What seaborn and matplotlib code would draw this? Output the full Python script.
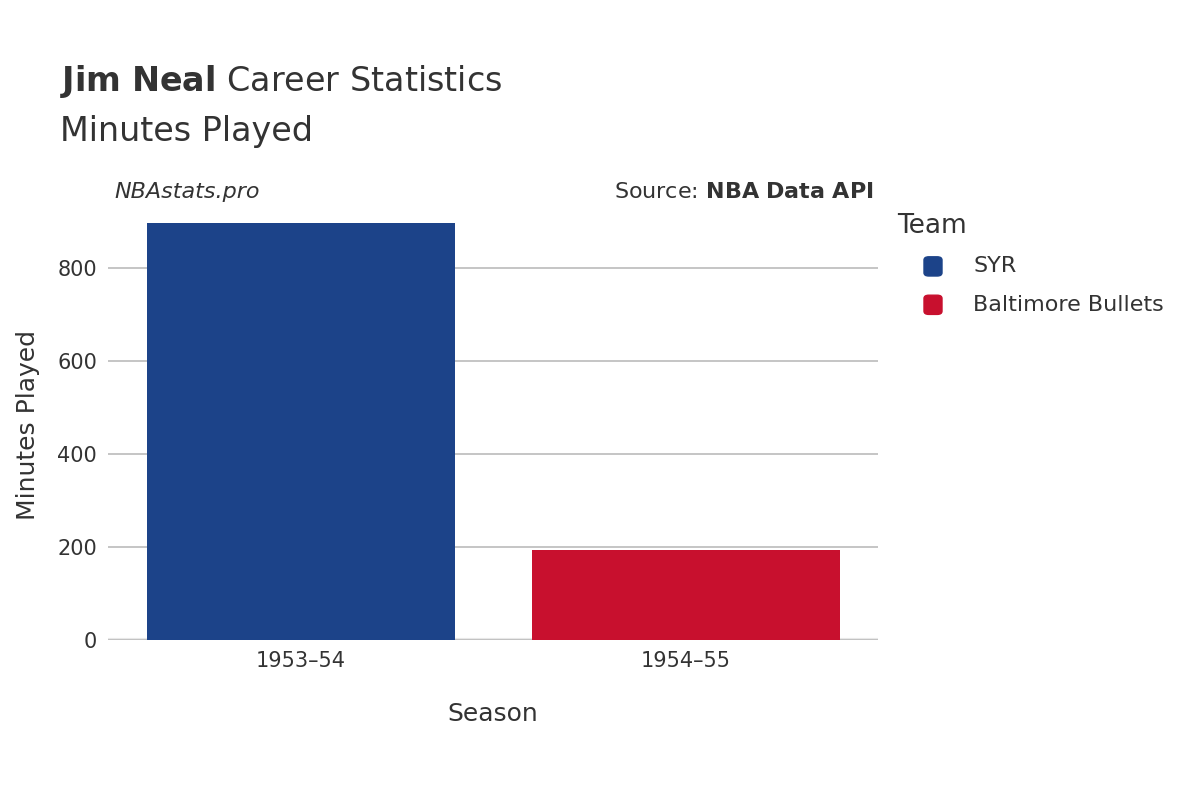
import matplotlib
matplotlib.use("Agg")
import matplotlib.pyplot as plt
import seaborn as sns
import pandas as pd

seasons = ["1953–54", "1954–55"]
teams = ["SYR", "Baltimore Bullets"]
minutes = [898, 194]
colors = ["#1c4389", "#c8102e"]

df = pd.DataFrame({"Season": seasons, "Team": teams, "Minutes": minutes})

fig = plt.figure(figsize=(12, 8), dpi=100)
ax = fig.add_axes([0.09, 0.2, 0.642, 0.5375])
sns.barplot(data=df, x="Season", y="Minutes", hue="Team", palette=colors,
            dodge=False, width=0.8, ax=ax, legend=False, saturation=1)
ax.set_ylim(0, 925)
ax.set_xlim(-0.5, 1.5)
ax.set_yticks([0, 200, 400, 600, 800])
ax.yaxis.grid(True, color="#bbbbbb", linewidth=1.2)
ax.set_axisbelow(True)
for s in ax.spines.values():
    s.set_visible(False)
ax.axhline(0, color="#e8e8e8", linewidth=3, zorder=0.5)
ax.tick_params(length=0, labelsize=15, labelcolor="#333333", pad=8)
ax.set_xlabel("Season", fontsize=18, color="#333333", labelpad=22)
ax.set_ylabel("Minutes Played", fontsize=18, color="#333333", labelpad=12)

fig.text(0.05, 0.875, r"$\bf{Jim\ Neal}$ Career Statistics", fontsize=24, color="#333333", va="bottom")
fig.text(0.05, 0.815, "Minutes Played", fontsize=24, color="#333333", va="bottom")
fig.text(0.095, 0.76, "NBAstats.pro", fontsize=16, style="italic", color="#333333", va="center")
fig.text(0.728, 0.76, r"Source: $\bf{NBA\ Data\ API}$", fontsize=16, color="#333333", va="center", ha="right")

fig.text(0.748, 0.717, "Team", fontsize=19, color="#333333", va="center")
for i, (t, c) in enumerate(zip(teams, colors)):
    y = 0.667 - i * 0.048
    fig.patches.append(matplotlib.patches.FancyBboxPatch(
        (0.770, y - 0.012), 0.015, 0.024, boxstyle="round,pad=0,rounding_size=0.004",
        transform=fig.transFigure, color=c))
    fig.text(0.811, y, t, fontsize=16, color="#333333", va="center")

fig.savefig("out.png")
